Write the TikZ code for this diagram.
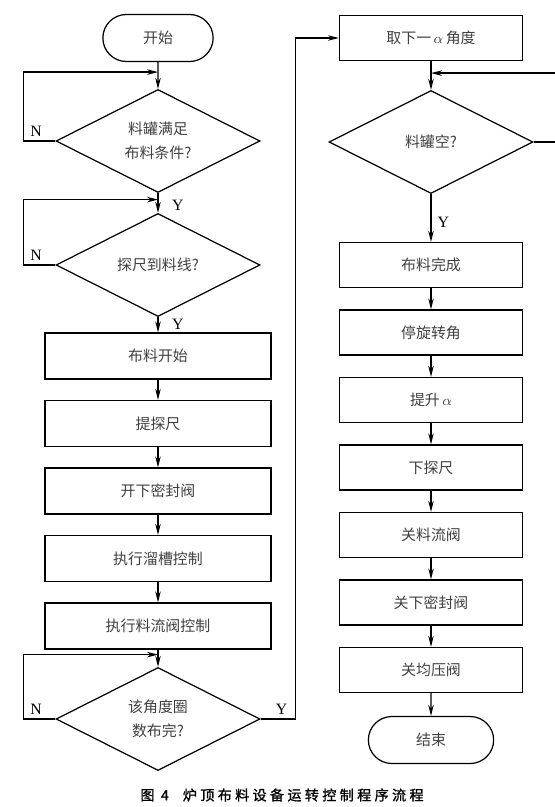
\documentclass[tikz,border=0pt]{standalone}
\usepackage{fontspec}
\setmainfont{Noto Sans CJK SC}
\newfontfamily\ynfont{Liberation Serif}
\newfontfamily\capfont{Noto Sans CJK SC}[FakeBold=1.2,LetterSpace=24]
\usetikzlibrary{positioning,shapes.geometric,shapes.misc,arrows.meta}

\begin{document}
\begin{tikzpicture}[node distance={1.35cm}, on grid, line width=0.7pt,
        font=\fontsize{8.5pt}{13.6pt}\selectfont,
        main/.style = {draw, rectangle, text=black!75, minimum width=4.52cm, minimum height=0.92cm},
        side/.style = {main, minimum width=3.66cm, minimum height=0.9cm},
        term/.style = {draw, rounded rectangle, text=black!75, minimum width=2.44cm, minimum height=0.94cm},
        test/.style = {draw, diamond, aspect=2, inner sep=0pt, text=black!75, align=center, minimum width=4.08cm, minimum height=2.06cm},
        flow/.style = {-{Stealth[length=2.2mm, width=1.1mm]}},
        yn/.style = {font=\ynfont\fontsize{9pt}{9pt}\selectfont, inner sep=2pt}]
        \useasboundingbox (0,0) rectangle (11.08,-16.14);
        % left column
        \node[term] (1) at (3.16,-0.76) {开始};
        \node[test] (2) [below=2.06cm of 1] {料罐满足\\布料条件?};
        \node[test] (3) [below=2.48cm of 2] {探尺到料线?};
        \node[main] (4) [below=1.82cm of 3] {布料开始};
        \node[main] (5) [below=of 4] {提探尺};
        \node[main] (6) [below=of 5] {开下密封阀};
        \node[main] (7) [below=of 6] {执行溜槽控制};
        \node[main] (8) [below=of 7] {执行料流阀控制};
        \node[test] (9) [below=1.86cm of 8] {该角度圈\\数布完?};
        % right column
        \node[side] (10) at (8.62,-0.76) {取下一\,$\alpha$\,角度};
        \node[test] (11) [below=2.08cm of 10] {料罐空?};
        \node[side] (12) [below=2.46cm of 11] {布料完成};
        \node[side] (13) [below=of 12] {停旋转角};
        \node[side] (14) [below=of 13] {提升\,$\alpha$};
        \node[side] (15) [below=of 14] {下探尺};
        \node[side] (16) [below=of 15] {关料流阀};
        \node[side] (17) [below=of 16] {关下密封阀};
        \node[side] (18) [below=of 17] {关均压阀};
        \node[term, minimum width=2.74cm] (19) [below=1.4cm of 18] {结束};
        \node[font=\capfont\fontsize{8pt}{9pt}\selectfont] (cap) at (5.64,-15.9) {图~4\quad 炉顶布料设备运转控制程序流程};
        % loop joins
        \coordinate[below=0.2cm of 1.south] (j1);
        \coordinate[below=0.13cm of 2.south] (j2);
        \coordinate[below=0.1cm of 8.south] (j3);
        \coordinate[below=0.24cm of 10.south] (j4);
        \draw[flow] (1) -- (2);
        \draw[flow] (2) -- node[yn, right=0.2cm, pos=0.6] {Y} (3);
        \draw[flow] (3) -- node[yn, right=0.2cm] {Y} (4);
        \draw[flow] (4) -- (5);
        \draw[flow] (5) -- (6);
        \draw[flow] (6) -- (7);
        \draw[flow] (7) -- (8);
        \draw[flow] (8) -- (9);
        \draw[flow] (2.west) -- node[yn, above, pos=0.6] {N} ++(-0.64,0) |- (j1);
        \draw[flow] (3.west) -- node[yn, above, pos=0.6] {N} ++(-0.64,0) |- (j2);
        \draw[flow] (9.west) -- node[yn, above, pos=0.6] {N} ++(-0.64,0) |- (j3);
        \draw[flow] (9.east) -- node[yn, above, pos=0.6] {Y} ++(0.7,0) |- (10.west);
        \draw[flow] (10) -- (11);
        \draw[flow] (11.east) -- ++(0.5,0) |- (j4);
        \draw[flow] (11) -- node[yn, right=0.05cm, pos=0.6] {Y} (12);
        \draw[flow] (12) -- (13);
        \draw[flow] (13) -- (14);
        \draw[flow] (14) -- (15);
        \draw[flow] (15) -- (16);
        \draw[flow] (16) -- (17);
        \draw[flow] (17) -- (18);
        \draw[flow] (18) -- (19);
    \end{tikzpicture}
\end{document}
